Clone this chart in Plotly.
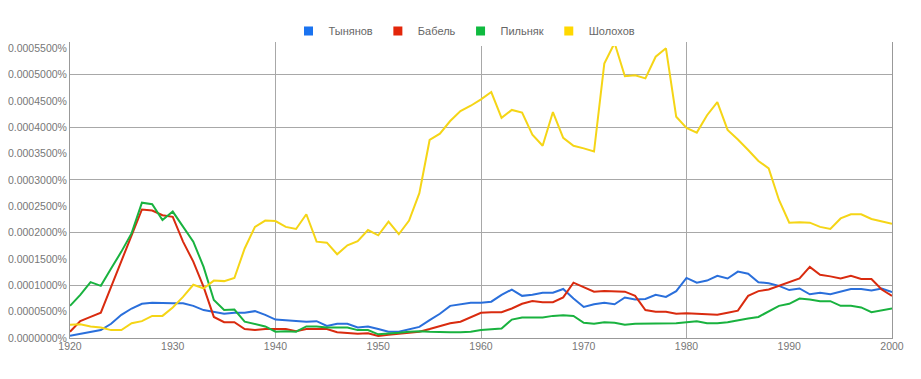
import plotly.graph_objects as go

years = list(range(1920, 2001))

tynyanov = [0.000004, 0.000008, 0.000011, 0.000015, 0.000027, 0.000044, 0.000056, 0.000065, 0.000067, 0.000066,
            0.000066, 0.000066, 0.000061, 0.000053, 0.000050, 0.000046, 0.000048, 0.000048, 0.000051, 0.000044,
            0.000035, 0.000034, 0.000032, 0.000031, 0.000032, 0.000023, 0.000027, 0.000027, 0.000020, 0.000022,
            0.000017, 0.000012, 0.000012, 0.000017, 0.000021, 0.000034, 0.000046, 0.000061, 0.000064, 0.000067,
            0.000067, 0.000069, 0.000082, 0.000092, 0.000080, 0.000082, 0.000086, 0.000086, 0.000093, 0.000075,
            0.000059, 0.000064, 0.000067, 0.000064, 0.000077, 0.000073, 0.000074, 0.000082, 0.000078, 0.000089,
            0.000114, 0.000105, 0.000109, 0.000118, 0.000113, 0.000126, 0.000122, 0.000106, 0.000104, 0.000099,
            0.000091, 0.000094, 0.000083, 0.000086, 0.000083, 0.000088, 0.000093, 0.000093, 0.000090, 0.000094,
            0.000087]

babel = [0.000012, 0.000032, 0.000040, 0.000048, 0.000097, 0.000145, 0.000195, 0.000244, 0.000242, 0.000233,
         0.000230, 0.000183, 0.000145, 0.000097, 0.000040, 0.000030, 0.000030, 0.000017, 0.000015, 0.000017,
         0.000017, 0.000017, 0.000013, 0.000017, 0.000017, 0.000017, 0.000011, 0.000009, 0.000008, 0.000009,
         0.000004, 0.000006, 0.000008, 0.000009, 0.000012, 0.000017, 0.000023, 0.000028, 0.000031, 0.000039,
         0.000048, 0.000049, 0.000049, 0.000056, 0.000065, 0.000070, 0.000068, 0.000068, 0.000077, 0.000105,
         0.000096, 0.000088, 0.000089, 0.000089, 0.000088, 0.000080, 0.000053, 0.000050, 0.000050, 0.000046,
         0.000047, 0.000046, 0.000045, 0.000044, 0.000048, 0.000052, 0.000080, 0.000089, 0.000092, 0.000099,
         0.000106, 0.000113, 0.000135, 0.000120, 0.000117, 0.000113, 0.000118, 0.000112, 0.000112, 0.000092,
         0.000080]

pilnyak = [0.000061, 0.000082, 0.000106, 0.000099, 0.000132, 0.000164, 0.000199, 0.000257, 0.000254, 0.000224,
           0.000240, 0.000211, 0.000183, 0.000135, 0.000072, 0.000053, 0.000054, 0.000031, 0.000026, 0.000022,
           0.000012, 0.000013, 0.000012, 0.000022, 0.000022, 0.000020, 0.000020, 0.000020, 0.000015, 0.000015,
           0.000007, 0.000008, 0.000010, 0.000012, 0.000013, 0.000012, 0.000011, 0.000011, 0.000011, 0.000012,
           0.000015, 0.000016, 0.000018, 0.000035, 0.000039, 0.000039, 0.000039, 0.000042, 0.000043, 0.000042,
           0.000029, 0.000027, 0.000030, 0.000029, 0.000025, 0.000027, 0.000027, 0.000027, 0.000027, 0.000028,
           0.000030, 0.000032, 0.000028, 0.000028, 0.000030, 0.000034, 0.000037, 0.000040, 0.000051, 0.000061,
           0.000065, 0.000075, 0.000073, 0.000070, 0.000070, 0.000061, 0.000061, 0.000058, 0.000049, 0.000052,
           0.000056]

sholokhov = [0.000025, 0.000026, 0.000022, 0.000020, 0.000015, 0.000015, 0.000028, 0.000032, 0.000042, 0.000042,
             0.000058, 0.000078, 0.000101, 0.000094, 0.000109, 0.000108, 0.000114, 0.000170, 0.000211, 0.000223,
             0.000222, 0.000211, 0.000207, 0.000235, 0.000183, 0.000181, 0.000159, 0.000176, 0.000184, 0.000205,
             0.000195, 0.000221, 0.000197, 0.000223, 0.000275, 0.000376, 0.000388, 0.000412, 0.000431, 0.000441,
             0.000453, 0.000467, 0.000418, 0.000433, 0.000428, 0.000386, 0.000365, 0.000429, 0.000380, 0.000365,
             0.000360, 0.000354, 0.000521, 0.000560, 0.000497, 0.000499, 0.000493, 0.000534, 0.000550, 0.000420,
             0.000399, 0.000390, 0.000423, 0.000448, 0.000395, 0.000377, 0.000357, 0.000336, 0.000322, 0.000262,
             0.000219, 0.000220, 0.000219, 0.000211, 0.000207, 0.000227, 0.000235, 0.000235, 0.000226, 0.000221,
             0.000217]

series_names = ["Тынянов", "Бабель", "Пильняк", "Шолохов"]
line_colors = ["#2a6fdb", "#d92b0f", "#19b23f", "#f5d516"]
swatch_colors = ["#1a73f0", "#e3260a", "#0fba3f", "#ffd800"]
series_values = [tynyanov, babel, pilnyak, sholokhov]

FONT = "Liberation Sans, Arial, sans-serif"
GRID = "#a8a8a8"

fig = go.Figure()
for name, vals, col in zip(series_names, series_values, line_colors):
    fig.add_trace(go.Scatter(x=years, y=vals, mode="lines", name=name,
                             line=dict(color=col, width=2), showlegend=False))
for name, col in zip(series_names, swatch_colors):
    fig.add_trace(go.Scatter(x=[None], y=[None], mode="markers", name=name,
                             marker=dict(symbol="square", size=9, color=col)))
# helper trace for the grid overlay axes
fig.add_trace(go.Scatter(x=[None], y=[None], xaxis="x2", yaxis="y2",
                         showlegend=False, hoverinfo="skip"))

# the page body has an 8px default margin, so the figure is 8px smaller
W, H = 913, 371
yr = [0, 0.000562]
xr = [1920, 2000]
fig.update_layout(
    width=W, height=H,
    margin=dict(l=62, r=29, t=34, b=41, autoexpand=False),
    paper_bgcolor="white", plot_bgcolor="white",
    font=dict(family=FONT, size=10, color="#666666"),
    showlegend=True,
    legend=dict(orientation="h", xref="container", yref="container",
                x=0.5, xanchor="center", y=1 - 23 / H, yanchor="middle",
                font=dict(size=11, color="#666666"), itemwidth=30,
                traceorder="normal"),
    xaxis=dict(range=xr, dtick=10, tick0=1920, showgrid=False, zeroline=False,
               showline=True, linecolor="#999999", linewidth=1, ticks="",
               ticklabelstandoff=-2, automargin=False,
               tickfont=dict(size=10.5, color="#777777")),
    yaxis=dict(range=yr, dtick=0.00005, tick0=0, tickformat=".7f", ticksuffix="%",
               showgrid=False, zeroline=False, showline=True, linecolor="#999999",
               linewidth=1, ticks="", automargin=False,
               tickfont=dict(size=10.5, color="#777777")),
    xaxis2=dict(range=xr, dtick=20, tick0=1920, overlaying="x", showgrid=True,
                gridcolor=GRID, gridwidth=1, showticklabels=False, zeroline=False,
                ticks="", showline=False, anchor="y2", automargin=False),
    yaxis2=dict(range=yr, dtick=0.0001, tick0=0, overlaying="y", side="right",
                showgrid=True, gridcolor=GRID, gridwidth=1, showticklabels=False,
                zeroline=False, ticks="", showline=True, linecolor="#999999",
                linewidth=1, anchor="x2", automargin=False),
)
fig.update_layout(yaxis2_layer="below traces", xaxis2_layer="below traces")

fig.write_html("out.html")
